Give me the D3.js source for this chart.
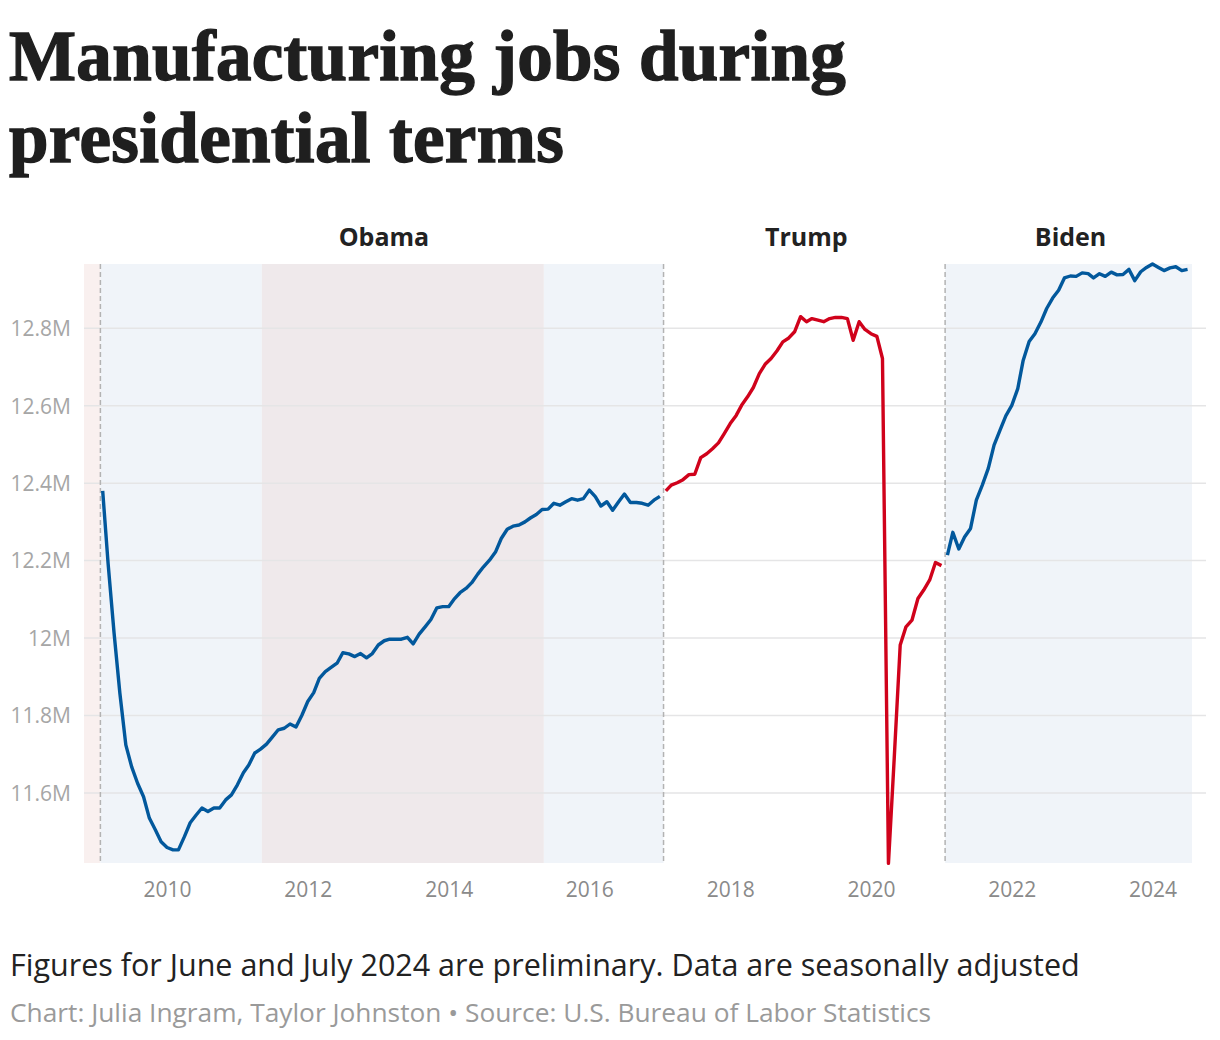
<!DOCTYPE html>
<html><head><meta charset="utf-8">
<script src="https://cdn.jsdelivr.net/npm/d3@7"></script>
<style>
body{margin:0;background:#fff;}
svg{display:block;}
</style></head>
<body>
<svg id="chart" width="1220" height="1040"></svg>
<script>
// ---- Data ----
const titleLines = ["Manufacturing jobs during", "presidential terms"];
const note = "Figures for June and July 2024 are preliminary. Data are seasonally adjusted";
const credit = "Chart: Julia Ingram, Taylor Johnston • Source: U.S. Bureau of Labor Statistics";

const presidents = ["Obama", "Trump", "Biden"];
const termStarts = ["2009-01-20", "2017-01-20", "2021-01-20"];
const termEnds = ["2017-01-20", "2021-01-20", "2024-07-24"];
const seriesStart = ["2009-02-01", "2017-02-01", "2021-02-01"];
const seriesColor = ["#02589c", "#d0021b", "#02589c"];

// Background bands
const bandStarts = ["2008-10-27", "2009-01-20", "2011-05-08", "2015-05-10", "2021-01-20"];
const bandEnds   = ["2009-01-20", "2011-05-08", "2015-05-10", "2017-01-20", "2024-07-24"];
const bandFills  = ["#f9f0ef", "#f0f4f9", "#efe9eb", "#f0f4f9", "#f0f4f9"];

// Monthly values (millions), Feb 2009 - Jan 2017
const obamaValues = [
  12.380, 12.193, 12.013, 11.858, 11.724, 11.668, 11.625, 11.590, 11.535, 11.505, 11.474,
  11.459, 11.453, 11.453, 11.487, 11.523, 11.543, 11.561, 11.552, 11.561, 11.561, 11.582, 11.595,
  11.621, 11.652, 11.672, 11.703, 11.713, 11.726, 11.744, 11.763, 11.767, 11.778, 11.770, 11.800,
  11.836, 11.859, 11.896, 11.913, 11.924, 11.935, 11.962, 11.959, 11.952, 11.960, 11.949, 11.960,
  11.982, 11.993, 11.997, 11.997, 11.997, 12.002, 11.985, 12.010, 12.029, 12.048, 12.078, 12.081,
  12.081, 12.102, 12.117, 12.128, 12.143, 12.165, 12.184, 12.201, 12.222, 12.257, 12.281, 12.289,
  12.292, 12.300, 12.310, 12.319, 12.332, 12.333, 12.348, 12.343, 12.352, 12.360, 12.356, 12.360,
  12.382, 12.365, 12.341, 12.352, 12.330, 12.352, 12.372, 12.350, 12.350, 12.348, 12.343, 12.356,
  12.366
];
// Feb 2017 - Jan 2021
const trumpValues = [
  12.380, 12.395, 12.401, 12.409, 12.422, 12.423, 12.466, 12.476, 12.489, 12.504, 12.528,
  12.554, 12.575, 12.601, 12.623, 12.647, 12.683, 12.707, 12.722, 12.742, 12.765, 12.775, 12.791,
  12.830, 12.817, 12.825, 12.821, 12.817, 12.825, 12.828, 12.828, 12.825, 12.769, 12.817, 12.797,
  12.786, 12.779, 12.722, 11.418, 11.690, 11.982, 12.029, 12.046, 12.102, 12.124, 12.150, 12.195,
  12.187
];
// Feb 2021 - Jul 2024
const bidenValues = [
  12.214, 12.273, 12.230, 12.261, 12.283, 12.356, 12.395, 12.438, 12.498, 12.537, 12.574,
  12.601, 12.644, 12.717, 12.766, 12.786, 12.816, 12.851, 12.878, 12.898, 12.930, 12.935, 12.934,
  12.943, 12.941, 12.930, 12.941, 12.934, 12.945, 12.938, 12.939, 12.952, 12.923, 12.946, 12.957,
  12.966, 12.957, 12.949, 12.956, 12.959, 12.949, 12.952
];
const seriesValues = [obamaValues, trumpValues, bidenValues];

const yTicks = [11.6, 11.8, 12.0, 12.2, 12.4, 12.6, 12.8];
const yTickLabels = ["11.6M", "11.8M", "12M", "12.2M", "12.4M", "12.6M", "12.8M"];
const xTicks = ["2010", "2012", "2014", "2016", "2018", "2020", "2022", "2024"];
const yDomain = [11.419, 12.966];
const xDomain = ["2008-10-27", "2024-07-24"];

// ---- Layout ----
const svg = d3.select("#chart");
const parse = d3.utcParse("%Y-%m-%d");
const L = 84, R = 1192, T = 264, B = 863;
const sans = "'Open Sans', 'Noto Sans', sans-serif";

const x = d3.scaleUtc().domain(xDomain.map(parse)).range([L, R]);
const y = d3.scaleLinear().domain(yDomain).range([B, T]);

// Title
svg.append("g").selectAll("text").data(titleLines).join("text")
  .attr("x", 9).attr("y", (d, i) => 80 + i * 82)
  .attr("font-family", "'Liberation Serif', 'DejaVu Serif', serif")
  .attr("font-weight", 700).attr("font-size", 71).attr("letter-spacing", 0.35)
  .attr("fill", "#1f1f1f").attr("stroke", "#1f1f1f").attr("stroke-width", 1.4)
  .text(d => d);

// Bands
svg.append("g").selectAll("rect").data(bandStarts).join("rect")
  .attr("x", (d) => x(parse(d)))
  .attr("width", (d, i) => x(parse(bandEnds[i])) - x(parse(d)))
  .attr("y", T).attr("height", B - T)
  .attr("fill", (d, i) => bandFills[i]);

// Gridlines
svg.append("g").selectAll("line").data(yTicks).join("line")
  .attr("x1", L).attr("x2", 1206)
  .attr("y1", d => y(d)).attr("y2", d => y(d))
  .attr("stroke", "#e5e5e6").attr("stroke-width", 1.5);

// Y axis labels
const yAxis = d3.axisLeft(y).tickValues(yTicks).tickSize(0).tickPadding(0)
  .tickFormat((d, i) => yTickLabels[i]);
const gy = svg.append("g").attr("transform", `translate(${L - 13},0)`).call(yAxis);
gy.select(".domain").remove();
gy.selectAll("text").attr("font-family", sans).attr("font-size", 21)
  .attr("fill", "#a6a6a6").attr("dy", "0.35em");

// X axis labels
const xAxis = d3.axisBottom(x).tickValues(xTicks.map(t => parse(t + "-01-01")))
  .tickSize(0).tickPadding(0).tickFormat((d, i) => xTicks[i]);
const gx = svg.append("g").attr("transform", `translate(0,${B + 34})`).call(xAxis);
gx.select(".domain").remove();
gx.selectAll("text").attr("font-family", sans).attr("font-size", 21)
  .attr("fill", "#8a8a8a").attr("dy", 0);

// Term dividers
svg.append("g").selectAll("line").data(termStarts).join("line")
  .attr("x1", d => x(parse(d))).attr("x2", d => x(parse(d)))
  .attr("y1", T).attr("y2", B)
  .attr("stroke", "#b3b3b3").attr("stroke-width", 1.5)
  .attr("stroke-dasharray", "5,3");

// President labels
svg.append("g").selectAll("text").data(presidents).join("text")
  .attr("x", (d, i) => (x(parse(termStarts[i])) + x(parse(termEnds[i]))) / 2 + 2)
  .attr("y", 246).attr("text-anchor", "middle")
  .attr("font-family", sans).attr("font-weight", 700).attr("font-size", 25)
  .attr("fill", "#222").text(d => d);

// Lines
const line = d3.line().x(d => x(d.date)).y(d => y(d.value));
seriesValues.forEach((vals, i) => {
  const start = parse(seriesStart[i]);
  const pts = vals.map((v, k) => ({ date: d3.utcMonth.offset(start, k), value: v }));
  svg.append("path").datum(pts)
    .attr("d", line).attr("fill", "none")
    .attr("stroke", seriesColor[i]).attr("stroke-width", 3.4)
    .attr("stroke-linejoin", "round").attr("stroke-linecap", "butt");
});

// Footer
svg.append("text").attr("x", 10).attr("y", 976)
  .attr("font-family", sans).attr("font-size", 30.5).attr("fill", "#222").text(note);
svg.append("text").attr("x", 10).attr("y", 1022)
  .attr("font-family", sans).attr("font-size", 26.3).attr("fill", "#9a9a9a").text(credit);
</script>
</body></html>
